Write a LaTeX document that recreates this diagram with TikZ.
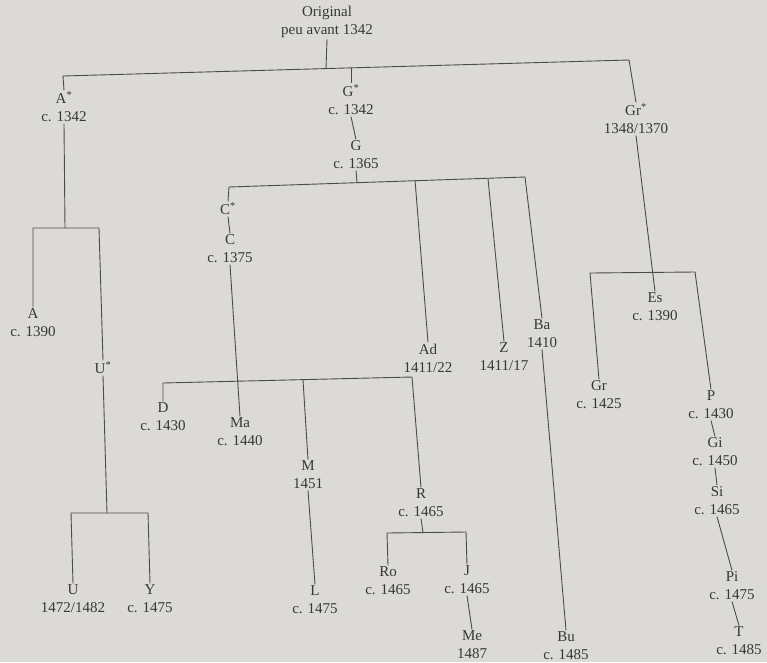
\documentclass[tikz,border=0pt]{standalone}
\usepackage{fontspec}
\setmainfont{Liberation Serif}
\definecolor{paper}{RGB}{220,218,214}
\definecolor{ink}{RGB}{55,55,55}
\definecolor{rule}{RGB}{75,75,75}
\begin{document}
\begin{tikzpicture}[x=1pt,y=-1pt,
  ms/.style={align=center,inner sep=1.5pt,outer sep=0pt,text=ink,
    font=\fontsize{15}{18}\selectfont},
  conn/.style={draw=rule,line width=0.9pt,line join=miter}]
\path[fill=paper] (0,0) rectangle (767,662);
\useasboundingbox (0,0) rectangle (767,662);
% nodes
\node[ms] (orig) at (327,22) {Original\\peu avant 1342};
\node[ms] (As) at (64,107) {A\textsuperscript{*}\\c. 1342};
\node[ms] (Gs) at (351,100) {G\textsuperscript{*}\\c. 1342};
\node[ms] (G) at (356,155) {G\\c. 1365};
\node[ms] (Grs) at (636,119) {Gr\textsuperscript{*}\\1348/1370};
\node[ms] (Cs) at (228,209) {C\textsuperscript{*}};
\node[ms] (C) at (230,249) {C\\c. 1375};
\node[ms] (A) at (33,323) {A\\c. 1390};
\node[ms] (Us) at (103,368) {U\textsuperscript{*}};
\node[ms] (D) at (163,417) {D\\c. 1430};
\node[ms] (Ma) at (240,432) {Ma\\c. 1440};
\node[ms] (M) at (308,475) {M\\1451};
\node[ms] (R) at (421,503) {R\\c. 1465};
\node[ms] (Ad) at (428,358) {Ad\\1411/22};
\node[ms] (Z) at (504,357) {Z\\1411/17};
\node[ms] (Ba) at (542,334) {Ba\\1410};
\node[ms] (Es) at (655,307) {Es\\c. 1390};
\node[ms] (Gr) at (599,395) {Gr\\c. 1425};
\node[ms] (P) at (711,405) {P\\c. 1430};
\node[ms] (Gi) at (715,452) {Gi\\c. 1450};
\node[ms] (Si) at (717,501) {Si\\c. 1465};
\node[ms] (Pi) at (732,586) {Pi\\c. 1475};
\node[ms] (T) at (739,641) {T\\c. 1485};
\node[ms] (U) at (73,599) {U\\1472/1482};
\node[ms] (Y) at (150,599) {Y\\c. 1475};
\node[ms] (L) at (315,600) {L\\c. 1475};
\node[ms] (Ro) at (388,581) {Ro\\c. 1465};
\node[ms] (J) at (467,580) {J\\c. 1465};
\node[ms] (Me) at (472,645) {Me\\1487};
\node[ms] (Bu) at (566,646) {Bu\\c. 1485};
% junctions
\coordinate (tl) at (63,76);
\coordinate (tm) at (326,68.6);
\coordinate (tg) at (351,67.9);
\coordinate (tr) at (629,60);
\coordinate (al) at (33,228);
\coordinate (am) at (65,228);
\coordinate (ar) at (99,228);
\coordinate (ul) at (71,513);
\coordinate (um) at (107,513);
\coordinate (ur) at (148,513);
\coordinate (gl) at (229,187);
\coordinate (gm) at (357,182);
\coordinate (gad) at (415,180);
\coordinate (gz) at (488,178.8);
\coordinate (gr) at (525,177);
\coordinate (cl) at (163,383);
\coordinate (cmm) at (303,380);
\coordinate (cr) at (412,377);
\coordinate (rl) at (387,533);
\coordinate (rm) at (423,532.5);
\coordinate (rr) at (466,532);
\coordinate (grl) at (590,273);
\coordinate (grr) at (695,272);
% connectors: bars with their end drops
\path[conn] (orig.south) -- (tm);
\path[conn] (As.north) -- (tl) -- (tr) -- (Grs.north);
\path[conn] (As.south) -- (am);
\path[conn] (A.north) -- (al) -- (ar) -- (Us.north);
\path[conn] (Us.south) -- (um);
\path[conn] (U.north) -- (ul) -- (ur) -- (Y.north);
\path[conn] (tg) -- (Gs.north);
\path[conn] (Gs.south) -- (G.north);
\path[conn] (G.south) -- (gm);
\path[conn] (Cs.north) -- (gl) -- (gr) -- (Ba.north);
\path[conn] (Cs.south) -- (C.north);
\path[conn] (C.south) -- (Ma.north);
\path[conn] (D.north) -- (cl) -- (cr) -- (R.north);
\path[conn] (cmm) -- (M.north);
\path[conn] (M.south) -- (L.north);
\path[conn] (R.south) -- (rm);
\path[conn] (Ro.north) -- (rl) -- (rr) -- (J.north);
\path[conn] (J.south) -- (Me.north);
\path[conn] (gad) -- (Ad.north);
\path[conn] (gz) -- (Z.north);
\path[conn] (Ba.south) -- (Bu.north);
\path[conn] (Grs.south) -- (Es.north);
\path[conn] (Gr.north) -- (grl) -- (grr) -- (P.north);
\path[conn] (P.south) -- (Gi.north);
\path[conn] (Gi.south) -- (Si.north);
\path[conn] (Si.south) -- (Pi.north);
\path[conn] (Pi.south) -- (T.north);
\end{tikzpicture}
\end{document}
